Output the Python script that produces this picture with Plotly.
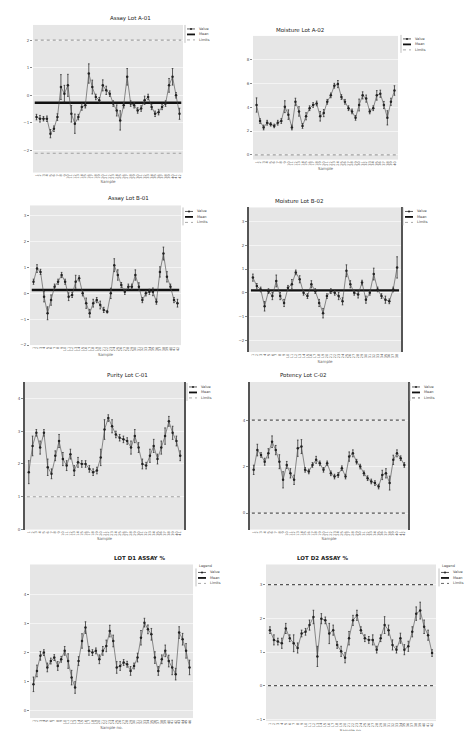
import plotly.graph_objects as go

# ---------------- data ----------------
titles = ["Assay Lot A-01", "Moisture Lot A-02", "Assay Lot B-01", "Moisture Lot B-02",
          "Purity Lot C-01", "Potency Lot C-02", "LOT D1 ASSAY %", "LOT D2 ASSAY %"]

p1_vals = [-0.79, -0.85, -0.85, -0.85, -1.39, -1.21, -0.79, 0.30, 0.06, 0.36, -0.67, -1.03, -0.79, -0.42,
           -0.36, 0.79, 0.30, -0.06, -0.18, 0.36, 0.18, 0.06, -0.30, -0.55, -0.91, -0.36, 0.67, -0.30,
           -0.36, -0.55, -0.48, -0.18, -0.06, -0.42, -0.67, -0.61, -0.42, -0.30, 0.36, 0.67, 0.00, -0.67]
p1_err = [0.10, 0.12, 0.08, 0.10, 0.15, 0.10, 0.12, 0.45, 0.30, 0.40, 0.30, 0.35, 0.10, 0.12,
          0.10, 0.35, 0.25, 0.10, 0.10, 0.20, 0.15, 0.10, 0.10, 0.20, 0.35, 0.10, 0.30, 0.10,
          0.10, 0.10, 0.10, 0.15, 0.10, 0.10, 0.10, 0.10, 0.10, 0.10, 0.25, 0.30, 0.10, 0.20]
p1_cl = -0.27
p1_ucl = 2.0
p1_lcl = -2.1

p2_vals = [4.19, 2.84, 2.30, 2.70, 2.57, 2.43, 2.70, 2.84, 4.05, 3.38, 2.30, 4.46, 3.65, 2.43,
           3.24, 3.92, 4.19, 4.32, 3.24, 3.51, 4.46, 5.00, 5.81, 5.95, 4.86, 4.46, 3.92, 3.65,
           3.11, 4.19, 5.00, 4.73, 3.65, 3.92, 5.00, 5.14, 4.19, 3.11, 4.46, 5.41]
p2_err = [0.60, 0.20, 0.20, 0.20, 0.15, 0.15, 0.20, 0.20, 0.50, 0.40, 0.20, 0.30, 0.40, 0.20,
          0.30, 0.20, 0.20, 0.20, 0.40, 0.30, 0.20, 0.20, 0.20, 0.30, 0.20, 0.20, 0.20, 0.20,
          0.20, 0.50, 0.30, 0.30, 0.20, 0.20, 0.40, 0.30, 0.30, 0.60, 0.30, 0.40]
p2_lcl = 0.0

p3_vals = [0.45, 0.96, 0.83, -0.13, -0.77, -0.26, 0.26, 0.45, 0.71, 0.45, -0.13, -0.06, 0.45, 0.58,
           0.00, -0.38, -0.77, -0.38, -0.26, -0.45, -0.64, -0.71, 0.00, 1.09, 0.71, 0.32, 0.06, 0.26,
           0.26, 0.71, 0.26, -0.26, 0.00, 0.06, 0.06, -0.32, 0.83, 1.54, 0.64, 0.26, -0.26, -0.38]
p3_err = [0.10, 0.15, 0.10, 0.20, 0.25, 0.20, 0.10, 0.10, 0.10, 0.10, 0.15, 0.10, 0.25, 0.10,
          0.10, 0.20, 0.15, 0.15, 0.10, 0.15, 0.10, 0.05, 0.20, 0.25, 0.20, 0.10, 0.10, 0.10,
          0.10, 0.20, 0.15, 0.10, 0.10, 0.10, 0.15, 0.10, 0.20, 0.25, 0.20, 0.10, 0.10, 0.15]
p3_cl = 0.13

p4_vals = [0.64, 0.29, 0.14, -0.57, 0.07, -0.14, 0.50, -0.14, -0.43, 0.21, 0.36, 0.86, 0.57, 0.00,
           -0.14, 0.36, 0.07, -0.43, -0.86, -0.14, 0.07, 0.00, -0.14, -0.36, 0.93, 0.36, 0.00, -0.07,
           0.43, -0.29, 0.00, 0.79, 0.14, -0.14, -0.29, -0.36, 0.14, 1.07]
p4_err = [0.15, 0.10, 0.10, 0.20, 0.10, 0.15, 0.25, 0.15, 0.15, 0.10, 0.20, 0.10, 0.15, 0.10,
          0.10, 0.15, 0.10, 0.15, 0.20, 0.10, 0.10, 0.10, 0.15, 0.15, 0.25, 0.15, 0.10, 0.15,
          0.10, 0.15, 0.10, 0.25, 0.10, 0.10, 0.15, 0.10, 0.10, 0.45]
p4_cl = 0.1

p5_vals = [1.75, 2.55, 2.95, 2.50, 2.95, 1.90, 1.70, 2.25, 2.70, 2.15, 1.95, 2.30, 1.80, 2.05,
           2.00, 2.00, 1.85, 1.75, 1.80, 2.20, 3.05, 3.40, 3.15, 2.90, 2.80, 2.75, 2.70, 2.50,
           2.85, 2.50, 2.00, 1.95, 2.25, 2.55, 2.15, 2.50, 2.85, 3.30, 2.95, 2.70, 2.25]
p5_err = [0.35, 0.30, 0.10, 0.20, 0.10, 0.25, 0.15, 0.15, 0.20, 0.20, 0.15, 0.15, 0.15, 0.15,
          0.10, 0.10, 0.10, 0.10, 0.10, 0.25, 0.30, 0.10, 0.20, 0.10, 0.10, 0.10, 0.10, 0.20,
          0.20, 0.15, 0.15, 0.10, 0.20, 0.20, 0.15, 0.20, 0.25, 0.15, 0.20, 0.15, 0.15]
p5_lcl = 1.0

p6_vals = [1.86, 2.71, 2.50, 2.21, 2.57, 3.07, 2.71, 2.21, 1.43, 2.07, 1.71, 1.43, 2.79, 2.86,
           1.86, 1.79, 2.07, 2.29, 2.14, 1.86, 2.14, 1.71, 1.57, 1.64, 1.93, 1.57, 2.43, 2.57,
           2.21, 2.00, 1.71, 1.50, 1.36, 1.29, 1.14, 1.64, 1.71, 1.29, 2.29, 2.57, 2.36, 2.07]
p6_err = [0.20, 0.25, 0.10, 0.15, 0.20, 0.25, 0.20, 0.30, 0.35, 0.15, 0.20, 0.20, 0.35, 0.30,
          0.10, 0.10, 0.10, 0.15, 0.10, 0.10, 0.10, 0.10, 0.10, 0.10, 0.10, 0.10, 0.20, 0.15,
          0.10, 0.10, 0.10, 0.10, 0.10, 0.10, 0.10, 0.20, 0.20, 0.30, 0.20, 0.15, 0.10, 0.10]
p6_ucl = 4.0
p6_lcl = 0.0

p7_vals = [0.91, 1.37, 1.89, 2.00, 1.49, 1.71, 1.83, 1.54, 1.77, 2.06, 1.71, 1.14, 0.80, 1.71,
           2.40, 2.86, 2.06, 2.00, 2.06, 1.77, 2.06, 2.23, 2.74, 2.40, 1.49, 1.54, 1.66, 1.60,
           1.37, 1.54, 1.83, 2.51, 3.03, 2.80, 2.63, 1.83, 1.37, 1.77, 2.06, 1.71, 1.49, 1.26,
           2.69, 2.46, 2.06, 1.49]
p7_err = [0.25, 0.20, 0.15, 0.10, 0.15, 0.10, 0.10, 0.15, 0.10, 0.15, 0.25, 0.25, 0.20, 0.15,
          0.25, 0.20, 0.15, 0.10, 0.10, 0.15, 0.15, 0.20, 0.20, 0.20, 0.20, 0.15, 0.10, 0.10,
          0.15, 0.10, 0.15, 0.25, 0.15, 0.15, 0.20, 0.20, 0.15, 0.15, 0.20, 0.20, 0.25, 0.20,
          0.20, 0.20, 0.25, 0.25]

p8_vals = [1.65, 1.36, 1.31, 1.26, 1.70, 1.41, 1.26, 1.12, 1.55, 1.60, 1.80, 2.04, 0.87, 1.99,
           1.94, 1.55, 1.65, 1.21, 1.02, 0.83, 1.41, 1.94, 2.09, 1.65, 1.41, 1.36, 1.36, 1.07,
           1.41, 1.80, 1.65, 1.21, 1.07, 1.41, 1.07, 1.17, 1.60, 2.14, 2.23, 1.75, 1.50, 0.97]
p8_err = [0.10, 0.15, 0.10, 0.15, 0.15, 0.10, 0.25, 0.15, 0.10, 0.10, 0.15, 0.20, 0.30, 0.15,
          0.10, 0.30, 0.15, 0.10, 0.15, 0.15, 0.20, 0.15, 0.15, 0.10, 0.10, 0.10, 0.15, 0.10,
          0.10, 0.25, 0.15, 0.15, 0.10, 0.15, 0.15, 0.15, 0.15, 0.20, 0.25, 0.20, 0.15, 0.10]
p8_ucl = 3.0
p8_lcl = 0.0

y_ranges = [[-2.8, 2.55], [-0.4, 10.0], [-2.0, 3.4], [-2.5, 3.6], [0.0, 4.5], [-0.71, 5.64], [-0.25, 5.03], [-1.05, 3.6]]
y_ticks = [[-2, -1, 0, 1, 2], [0, 2, 4, 6, 8], [-2, -1, 0, 1, 2, 3], [-2, -1, 0, 1, 2, 3],
           [0, 1, 2, 3, 4], [0, 2, 4], [0, 1, 2, 3, 4], [-1, 0, 1, 2, 3]]
x_titles = ["Sample", "Sample", "Sample", "Sample", "Sample", "Sample", "Sample no.", "Sample no."]
legend_labels = ["Value", "Mean", "Limits"]

# ---------------- layout geometry (pixels) ----------------
W, H = 472, 731
boxes = [(25, 175, 17, 165), (245, 390, 28, 152), (22, 173, 198, 338), (241, 393, 200, 345),
         (17, 176, 375, 523), (242, 400, 375, 523), (22, 185, 558, 712), (258, 428, 558, 715)]
legend_pos = [(178, 21), (394, 31), (176, 204), (396, 204), (180, 380), (403, 380), (189, 560), (432, 560)]
dark_frame = [False, False, False, True, True, True, False, False]

FONT = "DejaVu Sans"
fig = go.Figure()
shapes = []
annots = []

panels = [
    (p1_vals, p1_err, p1_cl, [p1_ucl, p1_lcl]),
    (p2_vals, p2_err, None, [p2_lcl]),
    (p3_vals, p3_err, p3_cl, []),
    (p4_vals, p4_err, p4_cl, []),
    (p5_vals, p5_err, None, [p5_lcl]),
    (p6_vals, p6_err, None, [p6_ucl, p6_lcl]),
    (p7_vals, p7_err, None, []),
    (p8_vals, p8_err, None, [p8_ucl, p8_lcl]),
]


def px(x):
    return x / W


def py(y):
    return 1 - y / H


for i, (vals, err, cl, lims) in enumerate(panels):
    k = i + 1
    sfx = "" if k == 1 else str(k)
    xa, ya = "x" + sfx, "y" + sfx
    n = len(vals)
    xs = list(range(1, n + 1))
    lim_col = "#555555" if k in (6, 8) else "#a0a0a0"
    for j, lim in enumerate(lims):
        fig.add_trace(go.Scatter(
            x=[0.5, n + 0.5], y=[lim, lim], xaxis=xa, yaxis=ya, showlegend=False,
            mode="lines", line=dict(color=lim_col, width=1.2, dash="dot")))
    if cl is not None:
        fig.add_trace(go.Scatter(
            x=[0.5, n + 0.5], y=[cl, cl], xaxis=xa, yaxis=ya, showlegend=False,
            mode="lines", line=dict(color="#111111", width=2.4)))
    fig.add_trace(go.Scatter(
        x=xs, y=vals, xaxis=xa, yaxis=ya, showlegend=False,
        mode="lines+markers", line=dict(color="#444444", width=0.6),
        marker=dict(color="#222222", size=2.5),
        error_y=dict(type="data", array=err, color="#333333", thickness=0.8, width=0.8)))

    x0, x1, y0, y1 = boxes[i]
    yframe = dict(showline=True, linecolor="#555555", linewidth=1.8, mirror=True) if dark_frame[i] \
        else dict(showline=False)
    fig.layout["xaxis" + sfx] = dict(
        domain=[px(x0), px(x1)], anchor=ya, range=[0, n + 1],
        tickmode="array", tickvals=xs, ticktext=[str(v) for v in xs], tickangle=-90,
        tickfont=dict(size=3.5, color="#555555", family=FONT), ticks="",
        showgrid=False, zeroline=False, showline=False,
        title=dict(text=x_titles[i], font=dict(size=4, color="#666666", family=FONT), standoff=2))
    fig.layout["yaxis" + sfx] = dict(
        domain=[py(y1), py(y0)], anchor=xa, range=y_ranges[i],
        tickvals=y_ticks[i], tickfont=dict(size=4, color="#555555", family=FONT),
        ticks="outside", ticklen=2, tickcolor="#888888",
        showgrid=True, gridcolor="#f4f4f4", gridwidth=0.8, zeroline=False, **yframe)

    # title
    annots.append(dict(
        x=px((x0 + x1) / 2), y=py(y0 - 1), xref="paper", yref="paper",
        text=("<b>%s</b>" % titles[i]) if k >= 7 else titles[i], showarrow=False,
        yanchor="bottom", font=dict(size=5.5, color="#222222", family=FONT)))

    # compact hand-drawn legend
    lx, ly = legend_pos[i]
    if k >= 7:
        annots.append(dict(x=px(lx), y=py(ly), xref="paper", yref="paper", text="Legend",
                           showarrow=False, xanchor="left", yanchor="middle",
                           font=dict(size=3.5, color="#444444", family=FONT)))
        ly += 6
    shapes.append(dict(type="line", xref="paper", yref="paper", x0=px(lx - 1), x1=px(lx - 1),
                       y0=py(ly - 4), y1=py(ly + 14), line=dict(color="#999999", width=0.6)))
    styles = [dict(color="#333333", width=0.8), dict(color="#111111", width=1.8),
              dict(color=lim_col, width=0.9, dash="dot")]
    for r in range(3):
        yy = ly + r * 5.5
        shapes.append(dict(type="line", xref="paper", yref="paper", x0=px(lx + 1), x1=px(lx + 9),
                           y0=py(yy), y1=py(yy), line=styles[r]))
        if r == 0:
            shapes.append(dict(type="circle", xref="paper", yref="paper",
                               x0=px(lx + 4), x1=px(lx + 6), y0=py(yy - 1), y1=py(yy + 1),
                               fillcolor="#222222", line=dict(width=0)))
        annots.append(dict(x=px(lx + 11), y=py(yy), xref="paper", yref="paper", text=legend_labels[r],
                           showarrow=False, xanchor="left", yanchor="middle",
                           font=dict(size=3.5, color="#444444", family=FONT)))

fig.update_layout(
    width=W, height=H, margin=dict(l=0, r=0, t=0, b=0),
    paper_bgcolor="white", plot_bgcolor="#e6e6e6", showlegend=False,
    shapes=shapes, annotations=annots,
    font=dict(family=FONT, size=4, color="#444444"))

fig.write_html("out.html")
